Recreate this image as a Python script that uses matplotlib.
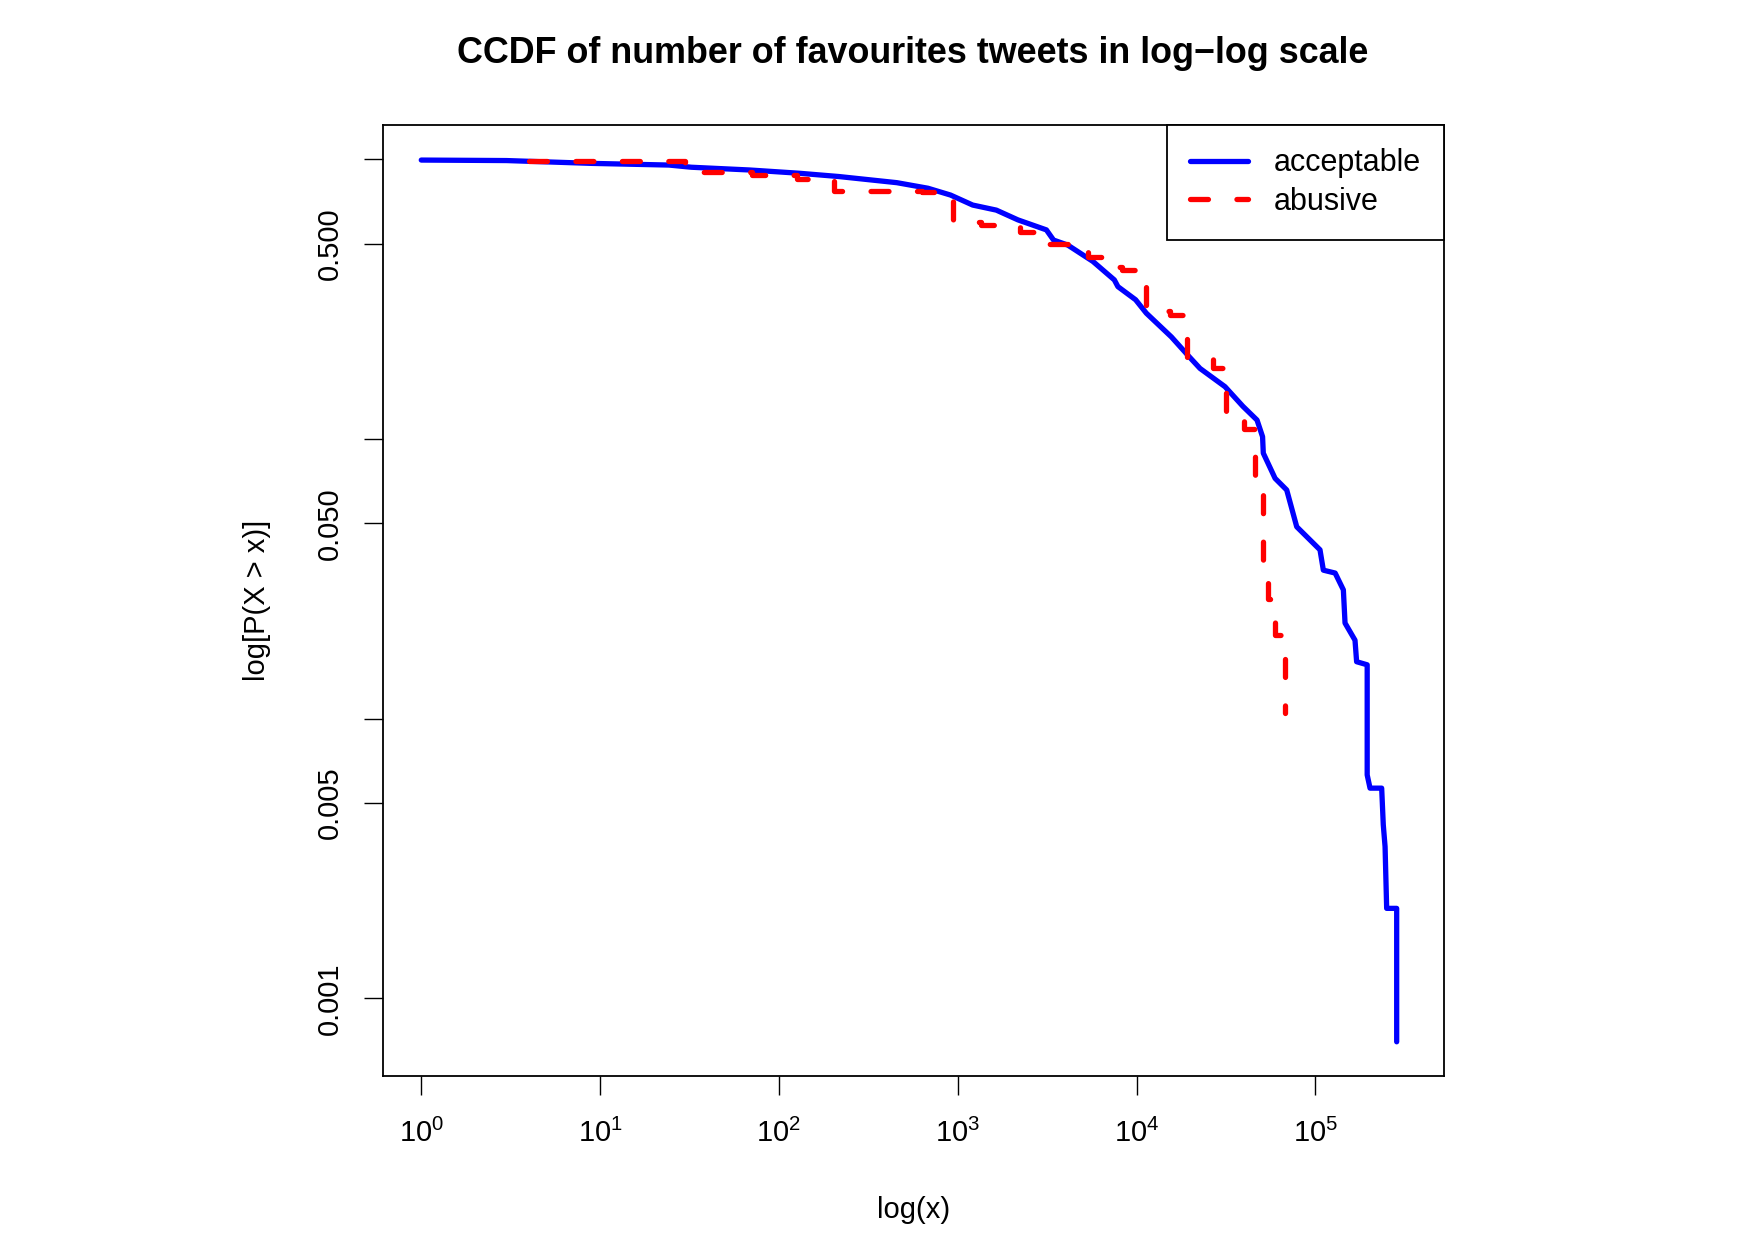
import matplotlib
matplotlib.use("Agg")
import matplotlib.pyplot as plt

plt.rcParams['font.family'] = ['Liberation Sans', 'DejaVu Sans']
plt.rcParams['mathtext.fontset'] = 'custom'
plt.rcParams['mathtext.rm'] = 'Liberation Sans'
plt.rcParams['mathtext.it'] = 'Liberation Sans'
plt.rcParams['mathtext.default'] = 'rm'

# CCDF of acceptable tweets (number of favourites vs P(X > x))
acceptable_x = [1, 3, 9.1, 24.3, 32.4, 68.5, 129, 216, 457, 682, 912, 1213, 1644,
                2173, 3133, 3436, 4130, 5702, 7516, 7870, 9886, 11350, 15670,
                19720, 22650, 31260, 39360, 47210, 50700, 51170, 59570, 69180,
                78700, 106200, 110900, 129100, 143500, 146600, 166700, 170200,
                195000, 195000, 202300, 235000, 239900, 245500, 250600, 285100,
                285100]
acceptable_p = [0.995, 0.991, 0.968, 0.955, 0.938, 0.917, 0.893, 0.869, 0.826,
                0.789, 0.746, 0.687, 0.659, 0.608, 0.560, 0.515, 0.494, 0.432,
                0.371, 0.351, 0.315, 0.282, 0.232, 0.197, 0.179, 0.154, 0.131,
                0.117, 0.102, 0.0891, 0.0724, 0.0658, 0.0486, 0.0402, 0.0340,
                0.0332, 0.0289, 0.0220, 0.0191, 0.0160, 0.0156, 0.0063, 0.00565,
                0.00565, 0.00418, 0.00349, 0.0021, 0.0021, 0.0007]

# CCDF of abusive tweets (step levels)
abusive_x = [4, 30, 71, 126, 204, 631, 944, 1349, 2239, 2818, 4571, 5370, 7079,
             8318, 11350, 15490, 19050, 26920, 31620, 39810, 45710, 50700,
             54580, 59570, 67760]
abusive_p = [0.991, 0.904, 0.881, 0.849, 0.774, 0.767, 0.600, 0.581, 0.552,
             0.499, 0.468, 0.449, 0.414, 0.403, 0.288, 0.278, 0.195, 0.179,
             0.116, 0.109, 0.0676, 0.0355, 0.0269, 0.0200, 0.0105]

x_ticks = [1, 10, 100, 1000, 10000, 100000]
x_tick_labels = ["$10^{%d}$" % i for i in range(6)]
y_ticks = [1, 0.5, 0.1, 0.05, 0.01, 0.005, 0.001]
y_tick_labels = ["", "0.500", "", "0.050", "", "0.005", "0.001"]

fig = plt.figure(figsize=(17.54, 12.41), dpi=100)
ax = fig.add_axes([0.2181, 0.1330, 0.6052, 0.766])

ax.plot(acceptable_x, acceptable_p, color="blue", lw=3.8,
        solid_capstyle="round", solid_joinstyle="round", label="acceptable")
ax.plot(abusive_x, abusive_p, color="red", lw=3.8, drawstyle="steps-post",
        dashes=(3.4, 5.4), dash_capstyle="round", label="abusive")

ax.set_xscale("log")
ax.set_yscale("log")
ax.set_xlim(10 ** -0.2165, 10 ** 5.72)
ax.set_ylim(10 ** -3.277, 10 ** 0.122)

ax.minorticks_off()
ax.set_xticks(x_ticks)
ax.set_xticklabels(x_tick_labels)
ax.set_yticks(y_ticks)
ax.set_yticklabels(y_tick_labels, rotation=90, va="center")
ax.tick_params(axis="both", direction="out", length=13.5, width=1.0,
               labelsize=21)
ax.tick_params(axis="x", pad=17)
ax.tick_params(axis="y", pad=14)
for s in ax.spines.values():
    s.set_linewidth(1.3)

ax.set_xlabel("log(x)", fontsize=21, labelpad=35)
ax.set_ylabel("log[P(X > x)]", fontsize=21, labelpad=33)
fig.text(0.5204, 0.957, "CCDF of number of favourites tweets in log\u2212log scale",
         ha="center", va="center", fontsize=25.8, fontweight="bold")

leg = ax.legend(loc="upper right", borderaxespad=0, fancybox=False,
                edgecolor="black", fontsize=22, handlelength=1.9,
                handletextpad=0.85, borderpad=0.75, labelspacing=0.28,
                framealpha=1)
leg.get_frame().set_linewidth(1.3)

fig.savefig("out.png", dpi=100)
